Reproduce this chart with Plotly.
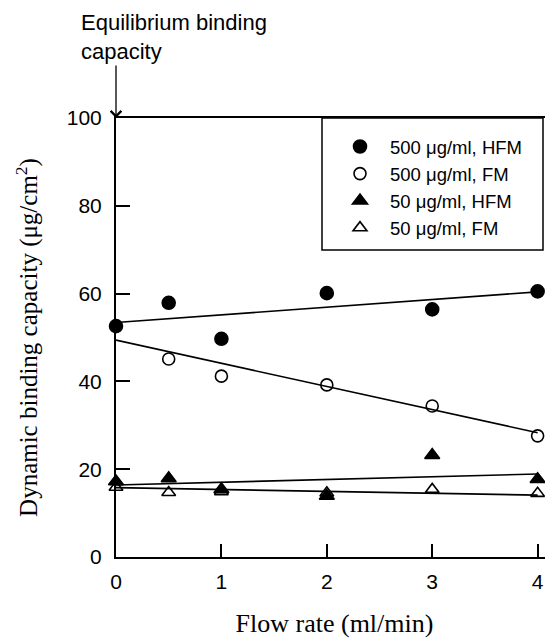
import plotly.graph_objects as go

# flow rate (ml/min) and dynamic binding capacity (ug/cm2)
flow_hfm = [0, 0.5, 1, 2, 3, 4]
dbc_500_hfm = [52.6, 57.9, 49.7, 60.1, 56.4, 60.5]
flow_fm = [0.5, 1, 2, 3, 4]
dbc_500_fm = [45.1, 41.2, 39.2, 34.4, 27.6]
dbc_50_hfm = [17.2, 17.9, 15.4, 13.9, 23.2, 17.7]
flow_fm50 = [0, 0.5, 1, 2, 3, 4]
dbc_50_fm = [15.9, 14.7, 14.9, 14.6, 15.4, 14.5]

# fitted lines (end points)
fit_x = [0, 4]
fit_500_hfm = [53.4, 60.4]
fit_500_fm = [49.4, 28.3]
fit_50_hfm = [16.4, 18.9]
fit_50_fm = [15.8, 14.1]

fig = go.Figure()

for fy in [fit_500_hfm, fit_500_fm, fit_50_hfm, fit_50_fm]:
    fig.add_trace(go.Scatter(x=fit_x, y=fy, mode="lines", showlegend=False,
                             line=dict(color="black", width=1.6), hoverinfo="skip"))

series = [
    ("500 μg/ml, HFM", flow_hfm, dbc_500_hfm, "circle"),
    ("500 μg/ml, FM", flow_fm, dbc_500_fm, "circle-open"),
    ("50 μg/ml, HFM", flow_hfm, dbc_50_hfm, "triangle-up"),
    ("50 μg/ml, FM", flow_fm50, dbc_50_fm, "triangle-up-open"),
]
for name, xs, ys, sym in series:
    fig.add_trace(go.Scatter(
        x=xs, y=ys, mode="markers", name=name, cliponaxis=False,
        marker=dict(symbol=sym, size=13 if "open" not in sym else 12,
                    color="black", line=dict(color="black", width=1.6)),
    ))

# plot area in page pixels: left 116, top 118, right 553, bottom 557 (page has 8px body margin)
PW, PH = 437, 439

# legend frame
fig.add_shape(type="rect", xref="paper", yref="paper",
              x0=(322 - 116) / PW, x1=(543 - 116) / PW,
              y0=(557 - 250) / PH, y1=1.0,
              line=dict(color="black", width=1.5), fillcolor="rgba(0,0,0,0)")

# arrow to equilibrium capacity
fig.add_annotation(x=0, y=100, xref="x", yref="y", text="", showarrow=True,
                   ax=0, ay=-54, arrowhead=4, arrowsize=1.6, arrowwidth=1.3,
                   arrowcolor="black", standoff=0)
fig.add_annotation(xref="paper", yref="paper",
                   x=(79 - 116) / PW, y=(557 - 8) / PH,
                   xanchor="left", yanchor="top", align="left", showarrow=False,
                   text="Equilibrium binding<br>capacity",
                   font=dict(family="Liberation Sans, Arial", size=22, color="black"))

fig.update_layout(
    width=545, height=634,
    margin=dict(l=108, r=0, t=110, b=85, autoexpand=False),
    plot_bgcolor="white", paper_bgcolor="white",
    font=dict(family="Liberation Sans, Arial", color="black"),
    showlegend=True,
    legend=dict(x=(330 - 116) / PW, y=(557 - 128) / PH, xanchor="left", yanchor="top",
                bgcolor="rgba(0,0,0,0)", borderwidth=0, itemwidth=50,
                font=dict(family="Liberation Sans, Arial", size=18.5, color="black")),
    xaxis=dict(range=[0, 4.146], tickvals=[0, 1, 2, 3, 4], ticks="inside", ticklen=13,
               tickwidth=1.5, tickcolor="black", showline=True, linecolor="black",
               linewidth=2, mirror=True, showgrid=False, zeroline=False,
               ticklabelstandoff=5,
               tickfont=dict(family="Liberation Sans, Arial", size=21),
               title=dict(text="Flow rate (ml/min)", standoff=22,
                          font=dict(family="Liberation Serif, Times New Roman", size=26))),
    yaxis=dict(range=[0, 100], tickvals=[0, 20, 40, 60, 80, 100], ticks="inside",
               ticklen=14, tickwidth=1.5, tickcolor="black", showline=True,
               linecolor="black", linewidth=2, showgrid=False, zeroline=False,
               ticklabelstandoff=8,
               tickfont=dict(family="Liberation Sans, Arial", size=21),
               title=dict(text="Dynamic binding capacity (μg/cm<sup>2</sup>)", standoff=22,
                          font=dict(family="Liberation Serif, Times New Roman", size=25))),
)

fig.write_html("out.html")
